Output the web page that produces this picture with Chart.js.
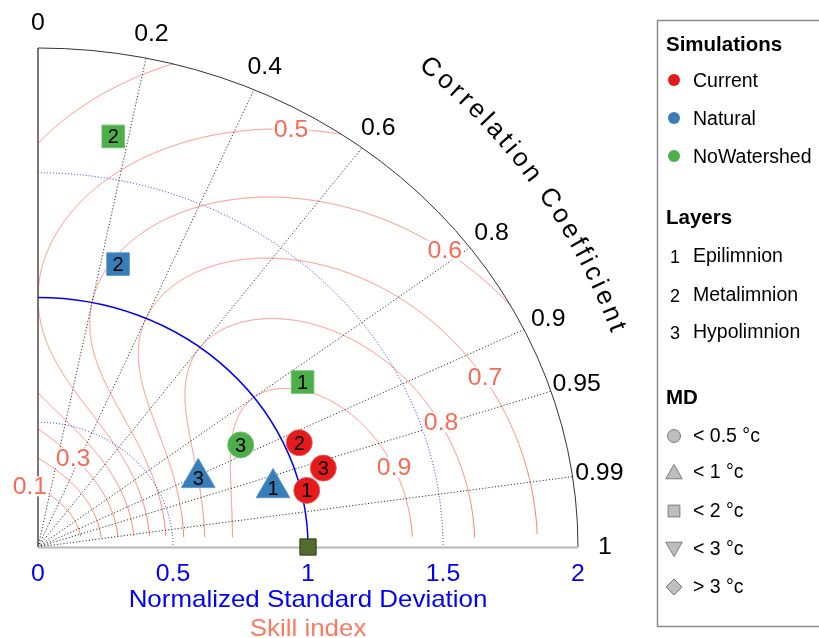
<!DOCTYPE html>
<html><head><meta charset="utf-8">
<script src="https://cdn.jsdelivr.net/npm/chart.js@4.4.0/dist/chart.umd.min.js"></script>
<style>html,body{margin:0;padding:0;background:#fff}#wrap{width:819px;height:638px;position:relative}</style>
</head><body><div id="wrap"><canvas id="c" width="819" height="638"></canvas></div>
<script>
// ---------- data ----------
const simulations = ['Current', 'Natural', 'NoWatershed'];
const layerIds = ['1', '2', '3'];
const layerNames = ['Epilimnion', 'Metalimnion', 'Hypolimnion'];
const mdClasses = ['< 0.5 °c', '< 1 °c', '< 2 °c', '< 3 °c', '> 3 °c'];
// normalized standard deviation and correlation per layer (Epi, Meta, Hypo)
const currentStd = [1.021, 1.054, 1.103];
const currentCor = [0.975, 0.918, 0.958];
const currentMD = [0, 0, 0];
const naturalStd = [0.902, 1.172, 0.655];
const naturalCor = [0.965, 0.253, 0.906];
const naturalMD = [1, 2, 1];
const noWatershedStd = [1.182, 1.669, 0.855];
const noWatershedCor = [0.829, 0.167, 0.878];
const noWatershedMD = [2, 2, 0];
const refStd = [1.0];
const refCor = [1.0];
const corrLines = [0.2, 0.4, 0.6, 0.8, 0.9, 0.95, 0.99];
const corrTickLabels = ['0', '0.2', '0.4', '0.6', '0.8', '0.9', '0.95', '0.99', '1'];
const stdTickLabels = ['0', '0.5', '1', '1.5', '2'];
const stdDottedArcs = [0.5, 1.5];
const skillLevels = [0.1, 0.2, 0.3, 0.4, 0.5, 0.6, 0.7, 0.8, 0.9];
const skillLabelLevels = ['0.1', '0.3', '0.5', '0.6', '0.7', '0.8', '0.9'];

// ---------- styles / layout ----------
const simColors = ['#E41A1C', '#377EB8', '#4DAF4A'];
const simBorders = ['rgba(240,90,90,0.9)', 'rgba(90,150,205,0.9)', 'rgba(110,195,105,0.9)'];
const mdStyles = [
  { style: 'circle', radius: 13, rot: 0 },
  { style: 'triangle', radius: 19.5, rot: 0 },
  { style: 'rect', radius: 16, rot: 0 },
  { style: 'triangle', radius: 19.5, rot: 180 },
  { style: 'rectRot', radius: 14, rot: 0 }
];
// label anchor (data space) for contour labels
const skillLabelAnchor = [[-0.03, 0.243], [0.13, 0.356], [0.937, 1.672], [1.507, 1.188], [1.656, 0.68], [1.493, 0.5], [1.319, 0.32]];
const FONT = '"Liberation Sans", Arial, sans-serif';
const SX = 1.08;

function toXY(s, c) { return { x: s * c, y: s * Math.sqrt(Math.max(0, 1 - c * c)) }; }
function makeDataset(label, color, border, stds, cors, mds) {
  return {
    label,
    data: stds.map((s, i) => toXY(s, cors[i])),
    pointStyle: mds.map(m => mdStyles[m].style),
    pointRadius: mds.map(m => mdStyles[m].radius),
    pointRotation: mds.map(m => mdStyles[m].rot),
    backgroundColor: color,
    borderColor: border,
    borderWidth: 1,
    showLine: false,
    clip: false,
    isSim: true
  };
}

function txt(ctx, s, x, y, size, color, opts = {}) {
  ctx.save();
  ctx.translate(x, y);
  ctx.scale(opts.sx || 1, 1);
  ctx.font = (opts.bold ? 'bold ' : '') + size + 'px ' + FONT;
  ctx.fillStyle = color;
  ctx.textAlign = opts.align || 'center';
  ctx.textBaseline = 'middle';
  ctx.fillText(s, 0, 0);
  ctx.restore();
}

const taylorPlugin = {
  id: 'taylor',
  beforeDatasetsDraw(chart) {
    const ctx = chart.ctx, xs = chart.scales.x, ys = chart.scales.y;
    const ox = xs.getPixelForValue(0), oy = ys.getPixelForValue(0);
    const ux = xs.getPixelForValue(1) - ox, uy = oy - ys.getPixelForValue(1);
    const px = (x, y) => [xs.getPixelForValue(x), ys.getPixelForValue(y)];

    ctx.save();
    ctx.beginPath();
    ctx.moveTo(ox, oy);
    ctx.ellipse(ox, oy, 2 * ux, 2 * uy, 0, -Math.PI / 2, 0);
    ctx.closePath();
    ctx.clip();

    // skill contours S = 2(1+R)/(s+1/s)^2
    ctx.strokeStyle = '#FA7E6C';
    ctx.lineWidth = 1;
    skillLevels.forEach(S => {
      const K = 2 / Math.sqrt(S);
      const d = Math.sqrt(K * K - 4);
      const lo = (K - d) / 2, hi = Math.min((K + d) / 2, 2.1);
      const N = 4000;
      let drawing = false;
      ctx.beginPath();
      for (let i = 0; i <= N; i++) {
        const s = lo + (hi - lo) * i / N;
        const R = S * Math.pow(s + 1 / s, 2) / 2 - 1;
        const p = toXY(s, Math.min(1, R));
        if (R < 0 || R > 1 || p.y < 0.035) { drawing = false; continue; }
        const [a, b] = px(p.x, p.y);
        if (!drawing) { ctx.moveTo(a, b); drawing = true; } else ctx.lineTo(a, b);
      }
      ctx.stroke();
    });

    // std arcs
    ctx.strokeStyle = '#2828FF';
    ctx.setLineDash([1, 2]);
    stdDottedArcs.forEach(r => {
      ctx.beginPath();
      ctx.ellipse(ox, oy, r * ux, r * uy, 0, -Math.PI / 2, 0);
      ctx.stroke();
    });
    ctx.setLineDash([]);
    ctx.strokeStyle = '#0000FF';
    ctx.lineWidth = 1.5;
    ctx.beginPath();
    ctx.ellipse(ox, oy, refStd[0] * ux, refStd[0] * uy, 0, -Math.PI / 2, 0);
    ctx.stroke();

    // correlation lines
    ctx.strokeStyle = '#333';
    ctx.lineWidth = 1;
    ctx.setLineDash([1.2, 2]);
    corrLines.forEach(c => {
      const p = toXY(2, c);
      const [a, b] = px(p.x, p.y);
      ctx.beginPath(); ctx.moveTo(ox, oy); ctx.lineTo(a, b); ctx.stroke();
    });
    ctx.setLineDash([]);
    ctx.restore();

    // outer arc and axes
    ctx.save();
    ctx.strokeStyle = '#333';
    ctx.lineWidth = 1;
    ctx.beginPath();
    ctx.ellipse(ox, oy, 2 * ux, 2 * uy, 0, -Math.PI / 2, 0);
    ctx.stroke();
    ctx.strokeStyle = '#3a2a2a';
    ctx.lineWidth = 1.3;
    ctx.beginPath(); ctx.moveTo(ox, oy); ctx.lineTo(ox, oy - 2 * uy); ctx.stroke();
    ctx.strokeStyle = '#b8b8b8';
    ctx.lineWidth = 2;
    ctx.beginPath(); ctx.moveTo(ox, oy + 0.5); ctx.lineTo(ox + 2 * ux, oy + 0.5); ctx.stroke();
    ctx.restore();

    // skill labels with knock-out boxes
    ctx.save();
    skillLabelLevels.forEach((t, i) => {
      const [a, b] = px(skillLabelAnchor[i][0], skillLabelAnchor[i][1]);
      ctx.font = '23px ' + FONT;
      const w = ctx.measureText(t).width * SX;
      ctx.fillStyle = '#fff';
      ctx.fillRect(a - w / 2 - 1, b - 10, w + 2, 20);
      txt(ctx, t, a, b + 1, 23, '#F86A56', { sx: SX });
    });
    ctx.restore();

    // correlation tick labels
    corrTickLabels.forEach(t => {
      const p = toXY(2.1, parseFloat(t));
      const [a, b] = px(p.x, p.y);
      txt(ctx, t, a, b + 1, 23, '#000', { sx: SX });
    });
    // std tick labels
    stdTickLabels.forEach(t => {
      txt(ctx, t, xs.getPixelForValue(parseFloat(t)), oy + 28, 23, '#0000FF', { sx: SX });
    });
    const cx = xs.getPixelForValue(1);
    txt(ctx, 'Normalized Standard Deviation', cx, oy + 53, 24, '#0000FF', { sx: SX });
    txt(ctx, 'Skill index', cx, oy + 82, 24, '#FA7A64', { sx: SX });

    // curved axis title
    const title = 'Correlation Coefficient';
    const R = 2.293 * ux;
    const th0 = 50.7 * Math.PI / 180, th1 = 20.8 * Math.PI / 180;
    ctx.save();
    ctx.font = '26px ' + FONT;
    const ws = [...title].map(ch => ctx.measureText(ch).width);
    let base = 0;
    for (let i = 1; i < ws.length; i++) base += ws[i - 1] / 2 + ws[i] / 2;
    const sp = (R * (th0 - th1) - base) / (ws.length - 1);
    let s = 0;
    [...title].forEach((ch, i) => {
      if (i > 0) s += ws[i - 1] / 2 + sp + ws[i] / 2;
      const th = th0 - s / R;
      ctx.save();
      ctx.translate(ox + R * Math.cos(th), oy - R * Math.sin(th));
      ctx.rotate(Math.PI / 2 - th);
      ctx.fillStyle = '#000';
      ctx.textAlign = 'center';
      ctx.textBaseline = 'middle';
      ctx.fillText(ch, 0, 0);
      ctx.restore();
    });
    ctx.restore();
  },
  afterDatasetsDraw(chart) {
    const ctx = chart.ctx;
    chart.data.datasets.forEach((ds, di) => {
      if (!ds.isSim) return;
      chart.getDatasetMeta(di).data.forEach((el, i) => {
        txt(ctx, layerIds[i], el.x, el.y + 1.5, 20, '#000');
      });
    });
    // legend
    ctx.save();
    ctx.strokeStyle = '#8c8c8c';
    ctx.lineWidth = 1.5;
    ctx.strokeRect(657.5, 20.5, 220, 606);
    const lx = 666, mx = 674, tx = 693;
    txt(ctx, 'Simulations', lx, 45, 20.5, '#000', { bold: true, align: 'left' });
    const simY = [80, 118, 156];
    simulations.forEach((n, i) => {
      ctx.beginPath(); ctx.arc(mx, simY[i], 6, 0, Math.PI * 2);
      ctx.fillStyle = simColors[i]; ctx.fill();
      txt(ctx, n, tx, simY[i] + 1.5, 19.5, '#000', { align: 'left' });
    });
    txt(ctx, 'Layers', lx, 218, 20.5, '#000', { bold: true, align: 'left' });
    const layY = [256, 295, 332];
    layerNames.forEach((n, i) => {
      txt(ctx, layerIds[i], mx + 1, layY[i] + 2, 18, '#000');
      txt(ctx, n, tx, layY[i] + 1, 19.5, '#000', { align: 'left' });
    });
    txt(ctx, 'MD', lx, 398, 20.5, '#000', { bold: true, align: 'left' });
    const mdY = [436, 472, 511, 549, 587];
    mdClasses.forEach((n, i) => {
      const st = mdStyles[i];
      const r = st.style === 'circle' ? 6.5 : st.style === 'triangle' ? 9.5 : st.style === 'rect' ? 8.3 : 8;
      ctx.fillStyle = '#BEBEBE'; ctx.strokeStyle = '#7a7a7a'; ctx.lineWidth = 1;
      Chart.helpers.drawPoint(ctx, { pointStyle: st.style, radius: r, rotation: st.rot, borderWidth: 1 }, mx, mdY[i] + (st.style === 'triangle' ? (st.rot ? -2 : 2) : 0));
      txt(ctx, n, tx, mdY[i] + 1, 19.5, '#000', { align: 'left' });
    });
    ctx.restore();
  }
};

new Chart(document.getElementById('c'), {
  type: 'scatter',
  data: {
    datasets: [
      makeDataset(simulations[0], simColors[0], simBorders[0], currentStd, currentCor, currentMD),
      makeDataset(simulations[1], simColors[1], simBorders[1], naturalStd, naturalCor, naturalMD),
      makeDataset(simulations[2], simColors[2], simBorders[2], noWatershedStd, noWatershedCor, noWatershedMD),
      {
        label: 'Reference',
        data: refStd.map((s, i) => toXY(s, refCor[i])),
        pointStyle: 'rect', pointRadius: 11.5,
        backgroundColor: '#556B2F', borderColor: '#2f3a1c', borderWidth: 1,
        showLine: false, clip: false
      }
    ]
  },
  options: {
    responsive: false,
    animation: false,
    events: [],
    layout: { padding: { left: 38, top: 48, right: 241, bottom: 91 } },
    scales: {
      x: { type: 'linear', min: 0, max: 2, display: false },
      y: { type: 'linear', min: 0, max: 2, display: false }
    },
    plugins: { legend: { display: false }, tooltip: { enabled: false } }
  },
  plugins: [taylorPlugin]
});
</script>
</body></html>
